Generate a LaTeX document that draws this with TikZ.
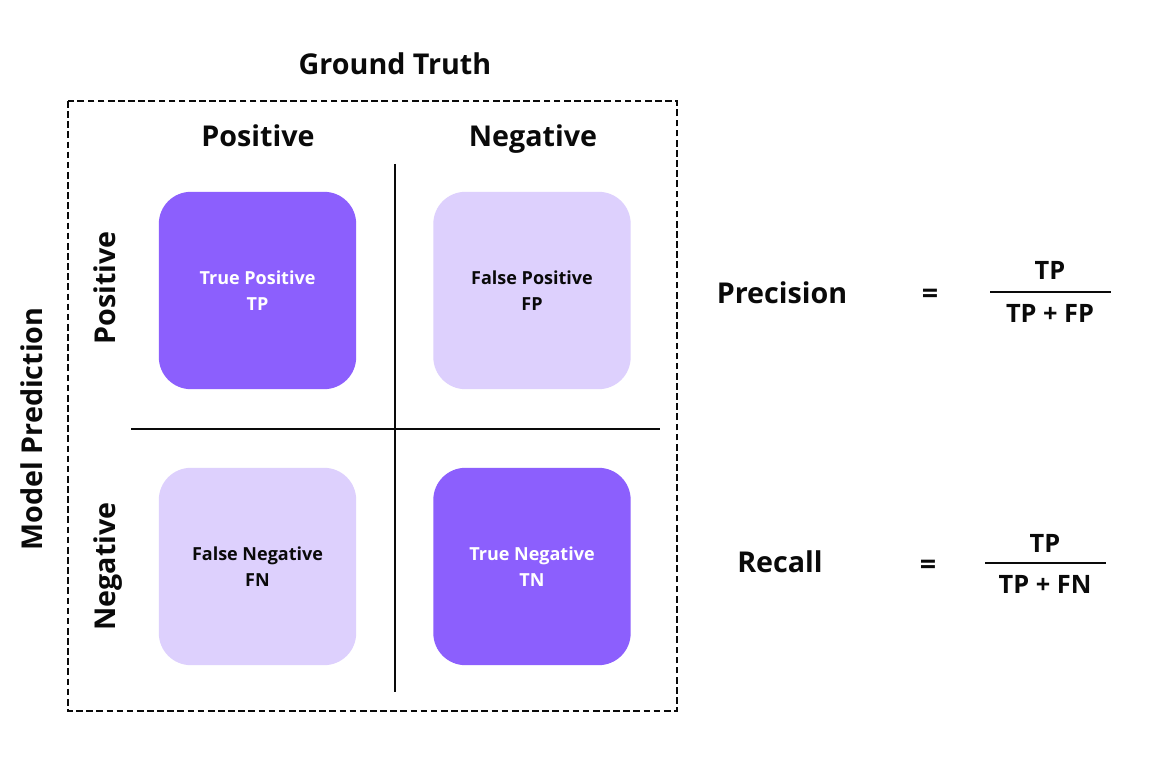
\documentclass[tikz,border=0pt]{standalone}
\usepackage{fontspec}
\setmainfont{Open Sans}
\definecolor{darkpurple}{HTML}{8C5FFD}
\definecolor{lightpurple}{HTML}{DDD0FD}
\definecolor{ink}{HTML}{0A0A0A}
\begin{document}
\begin{tikzpicture}[x=0.75pt,y=-0.75pt,
  head/.style={font=\fontsize{21.5}{24}\selectfont\bfseries, text=ink, inner sep=0pt, anchor=base},
  cell/.style={rounded corners=24pt, minimum width=148pt, minimum height=148pt, inner sep=0pt, align=center, font=\fontsize{13.5}{19.5}\selectfont\bfseries},
  dark/.style={cell, fill=darkpurple, text=white},
  light/.style={cell, fill=lightpurple, text=ink},
  rule/.style={line width=1.5pt, draw=ink},
  frac/.style={font=\fontsize{19}{22}\selectfont\bfseries, text=ink, inner sep=0pt, anchor=base}
]
\useasboundingbox[fill=white] (0,0) rectangle (1150,766);
% frame
\coordinate (f1) at (68,101);
\coordinate (f2) at (677,711);
\draw[line width=1.5pt, draw=ink, dash pattern=on 5pt off 2.6pt] (f1) rectangle (f2);
% titles
\node[head] (gt) at (395,75) {Ground Truth};
\node[head, rotate=90] (mp) at (42,429) {Model Prediction};
\node[head] (cp) at (258,147) {Positive};
\node[head] (cn) at (533,147) {Negative};
\node[head, rotate=90] (rp) at (115,288) {Positive};
\node[head, rotate=90] (rn) at (115,566.5) {Negative};
% divider lines
\coordinate (vt) at (395,164);
\coordinate (vb) at (395,692);
\coordinate (hl) at (131,429);
\coordinate (hr) at (660,429);
\draw[rule] (vt) -- (vb);
\draw[rule] (hl) -- (hr);
% cells
\node[dark]  (tp) at (257.5,290.5) {True Positive\\TP};
\node[light] (fp) at (532,290.5) {False Positive\\FP};
\node[light] (fn) at (257.5,566.5) {False Negative\\FN};
\node[dark]  (tn) at (532,566.5) {True Negative\\TN};
% precision
\node[head] (prec) at (782,304) {Precision};
\node[head] (eq1) at (930,304) {=};
\node[frac] (pnum) at (1050,280) {TP};
\node[frac] (pden) at (1050,323) {TP + FP};
\coordinate (pl) at (990,292);
\coordinate (pr) at (1111,292);
\draw[rule] (pl) -- (pr);
% recall
\node[head] (rec) at (780,572) {Recall};
\node[head] (eq2) at (928,574) {=};
\node[frac] (rnum) at (1045,552) {TP};
\node[frac] (rden) at (1045,593) {TP + FN};
\coordinate (rl) at (985,563);
\coordinate (rr) at (1106,563);
\draw[rule] (rl) -- (rr);
\end{tikzpicture}
\end{document}
